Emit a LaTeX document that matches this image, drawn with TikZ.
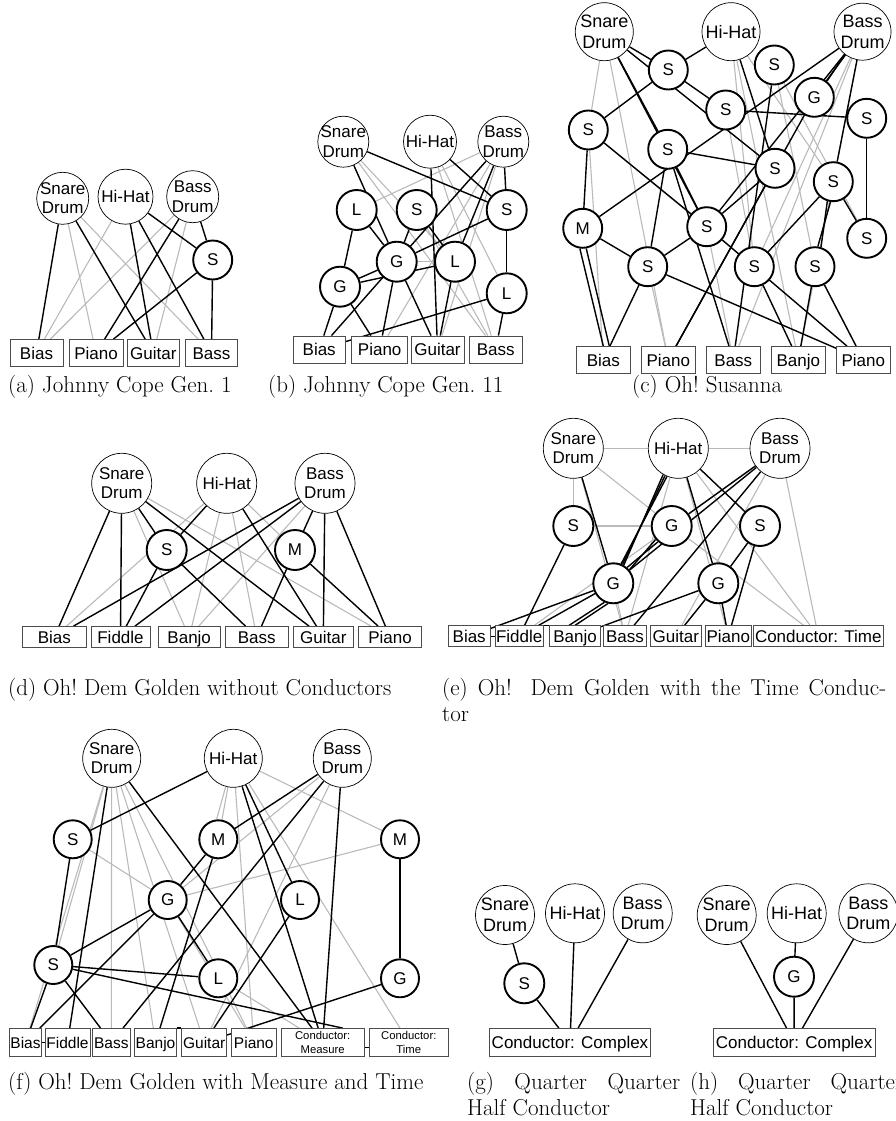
\documentclass[tikz,border=0pt]{standalone}
\usepackage{fontspec}
\newfontfamily\arial{Liberation Sans}
\usetikzlibrary{backgrounds}
\newcommand\drumnode[4]{\node[drum=#4,label={[dlab]center:#3}] (#1) at #2 {};}
\tikzset{
  dlab/.style={font=\arial\fontsize{17}{19.5}\selectfont, align=center, inner sep=0pt},
  drum/.style={circle, draw=black, line width=0.7pt, fill=white, minimum size=#1, inner sep=0pt},
  inst/.style={circle, draw=black, line width=1.9pt, fill=white, minimum size=#1, inner sep=0pt, font=\arial\fontsize{17}{20}\selectfont},
  obox/.style={rectangle, draw=black!70, line width=0.8pt, fill=white, inner sep=0pt, minimum height=#1, font=\arial\fontsize{17}{20}\selectfont, text height=14pt, text depth=1.8pt},
  bk/.style={line width=1.4pt, black},
  gy/.style={line width=1.1pt, black!27},
  captext/.style={anchor=base west, inner sep=0pt, font=\fontsize{23}{28}\selectfont},
}
\begin{document}
\begin{tikzpicture}[x=1pt,y=-1pt]
\useasboundingbox (0,0) rectangle (895,1121);

% ---------- (a) Johnny Cope Gen. 1 ----------
\drumnode{aSn}{(62.7,198.3)}{Snare\\Drum}{52}
\drumnode{aHH}{(125.5,196.7)}{Hi-Hat}{55}
\drumnode{aBD}{(192.7,196.7)}{Bass\\Drum}{52}
\node[inst=39] (aS) at (212.7,260) {S};
\node[obox=27, minimum width=53] (aBias) at (36.5,353) {Bias};
\node[obox=27, minimum width=54] (aPiano) at (96,353) {Piano};
\node[obox=27, minimum width=51.3] (aGuitar) at (153.3,353) {Guitar};
\node[obox=27, minimum width=51.6] (aBass) at (211.5,353) {Bass};
\begin{scope}[on background layer]
\foreach \a/\b in {aSn/aPiano,aSn/aBass,aHH/aBias,aBD/aBias,aBD/aGuitar}
  \draw[gy] (\a) -- (\b);
\foreach \a/\b in {aSn/aBias,aSn/aGuitar,aHH/aGuitar,aHH/aBass,aHH/aS,aBD/aPiano,aBD/aS,aS/aPiano,aS/aBass}
  \draw[bk] (\a) -- (\b);
\end{scope}

% ---------- (b) Johnny Cope Gen. 11 ----------
\drumnode{bSn}{(343.3,141.7)}{Snare\\Drum}{51}
\drumnode{bHH}{(430,141.7)}{Hi-Hat}{53}
\drumnode{bBD}{(503.3,141.7)}{Bass\\Drum}{51}
\node[inst=40] (bL1) at (356.7,210) {L};
\node[inst=40] (bS1) at (416.7,210) {S};
\node[inst=40] (bS2) at (506.7,210) {S};
\node[inst=40] (bG1) at (396.7,261.7) {G};
\node[inst=40] (bL2) at (455,261.7) {L};
\node[inst=40] (bG2) at (340,286.7) {G};
\node[inst=40] (bL3) at (506.7,293.3) {L};
\node[obox=27, minimum width=51.7] (bBias) at (319.2,349.5) {Bias};
\node[obox=27, minimum width=56] (bPiano) at (379.7,349.5) {Piano};
\node[obox=27, minimum width=53] (bGuitar) at (437.5,349.5) {Guitar};
\node[obox=27, minimum width=53.3] (bBass) at (495.7,349.5) {Bass};
\begin{scope}[on background layer]
\foreach \a/\b in {bSn/bL2,bSn/bBass,bHH/bBass,bHH/bL3,bBD/bL1,bBD/bPiano,bBD/bGuitar,bG1/bL2,bS1/bBass}
  \draw[gy] (\a) -- (\b);
\foreach \a/\b in {bSn/bG1,bSn/bS2,bHH/bS2,bHH/bGuitar,bBD/bG1,bBD/bL2,bBD/bS2,bL1/bG1,bL1/bG2,bS1/bG1,bS1/bL2,bS2/bG1,bS2/bL3,bG1/bG2,bG2/bL2,bG1/bBias,bG1/bPiano,bG1/bGuitar,bG2/bBias,bG2/bPiano,bL2/bGuitar,bL3/bBias,bL3/bBass}
  \draw[bk] (\a) -- (\b);
\end{scope}

% ---------- (c) Oh! Susanna ----------
\begin{scope}[dlab/.append style={font=\arial\fontsize{18}{20.5}\selectfont}]
\drumnode{cSn}{(604.3,31.7)}{Snare\\Drum}{58}
\drumnode{cHH}{(731,31.7)}{Hi-Hat}{58}
\drumnode{cBD}{(862.5,31.7)}{Bass\\Drum}{57}
\end{scope}
\node[inst=39] (cSa) at (668.3,70) {S};
\node[inst=39] (cSb) at (725.7,110) {S};
\node[inst=39] (cSc) at (774.3,65) {S};
\node[inst=39] (cG) at (814.3,97.3) {G};
\node[inst=39] (cSd) at (866.7,118.3) {S};
\node[inst=39] (cSe) at (588.3,130) {S};
\node[inst=39] (cSf) at (667.7,149.3) {S};
\node[inst=39] (cSg) at (775,168.3) {S};
\node[inst=39] (cSh) at (833.3,181.7) {S};
\node[inst=39] (cM) at (582.7,228.3) {M};
\node[inst=39] (cSi) at (706.7,226.7) {S};
\node[inst=39] (cSj) at (866.7,238.3) {S};
\node[inst=39] (cSk) at (647.7,266.7) {S};
\node[inst=39] (cSl) at (754.3,266.7) {S};
\node[inst=39] (cSm) at (815,266.7) {S};
\node[obox=27, minimum width=53.3] (cBias) at (603.3,360) {Bias};
\node[obox=27, minimum width=53.3] (cPiano) at (668.3,360) {Piano};
\node[obox=27, minimum width=53.3] (cBass) at (733.3,360) {Bass};
\node[obox=27, minimum width=53.3] (cBanjo) at (798.3,360) {Banjo};
\node[obox=27, minimum width=53.3] (cPianoB) at (863.3,360) {Piano};
\begin{scope}[on background layer]
\foreach \a/\b in {cSn/cSe,cSn/cPiano,cSe/cBias,cSe/cSl,cHH/cSl,cHH/cSh,cSc/cSj,cSc/cSm,cBD/cBass,cBD/cSl,cBD/cBanjo,cSk/cPiano,cSb/cSl,cSm/cPianoB,cSi/cBass,cHH/cBanjo}
  \draw[gy] (\a) -- (\b);
\foreach \a/\b in {cSn/cSa,cHH/cSa,cSa/cSb,cSa/cSe,cSn/cSf,cSn/cSi,cSn/cSg,cHH/cSg,cSc/cBass,cBD/cM,cBD/cG,cBD/cSh,cBD/cSi,cG/cPiano,cSg/cPiano,cSb/cSd,cSd/cSj,cSe/cM,cSe/cSi,cSf/cSk,cSf/cSi,cSf/cBass,cSf/cSg,cSg/cSi,cSh/cSl,cSh/cSj,cM/cSk,cSk/cBias,cSk/cPianoB,cSi/cSk,cSi/cPianoB,cSl/cBanjo,cSm/cBanjo,cSm/cPianoB}
  \draw[bk] (\a) -- (\b);
\draw[bk] (cSh.253) -- (cSm.73);
\draw[bk] (cSh.262) -- (cSm.82);
\draw[bk] (cM.262) -- (cBias.north);
\draw[bk] (cM.280) -- ([xshift=6pt]cBias.north);
\draw[bk] (cBD.232) -- (cG.52);
\end{scope}

% ---------- (d) Oh! Dem Golden without Conductors ----------
\drumnode{dSn}{(121.7,483.3)}{Snare\\Drum}{60}
\drumnode{dHH}{(226.7,483.3)}{Hi-Hat}{60}
\drumnode{dBD}{(325,483.3)}{Bass\\Drum}{60}
\node[inst=40] (dS) at (166.7,550) {S};
\node[inst=40] (dM) at (295,550) {M};
\node[obox=21, minimum width=63.3] (dBias) at (54.3,637) {Bias};
\node[obox=21, minimum width=59] (dFiddle) at (120.5,637) {Fiddle};
\node[obox=21, minimum width=61.7] (dBanjo) at (189.2,637) {Banjo};
\node[obox=21, minimum width=63.3] (dBass) at (256.7,637) {Bass};
\node[obox=21, minimum width=60] (dGuitar) at (323.3,637) {Guitar};
\node[obox=21, minimum width=63.3] (dPiano) at (390,637) {Piano};
\begin{scope}[on background layer]
\foreach \a/\b in {dSn/dBanjo,dSn/dPiano,dHH/dBias,dHH/dBanjo,dHH/dBass,dHH/dM,dBD/dBanjo}
  \draw[gy] (\a) -- (\b);
\foreach \a/\b in {dSn/dBias,dSn/dFiddle,dSn/dS,dSn/dGuitar,dHH/dS,dHH/dGuitar,dBD/dBias,dBD/dFiddle,dBD/dM,dBD/dGuitar,dBD/dPiano,dS/dFiddle,dS/dBass,dM/dBass,dM/dPiano}
  \draw[bk] (\a) -- (\b);
\end{scope}

% ---------- (e) Oh! Dem Golden with the Time Conductor ----------
\drumnode{eSn}{(573.3,448.3)}{Snare\\Drum}{60}
\drumnode{eHH}{(678.3,448.3)}{Hi-Hat}{60}
\drumnode{eBD}{(780,448.3)}{Bass\\Drum}{60}
\node[inst=40] (eS1) at (573.3,526) {S};
\node[inst=40] (eG1) at (671.7,526) {G};
\node[inst=40] (eS2) at (760,526) {S};
\node[inst=40] (eG2) at (613.3,583.3) {G};
\node[inst=40] (eG3) at (718.3,583.3) {G};
\node[obox=21, minimum width=41.7] (eBias) at (469.2,636.3) {Bias};
\node[obox=21, minimum width=48.3] (eFiddle) at (519.2,636.3) {Fiddle};
\node[obox=21, minimum width=51.3] (eBanjo) at (575,636.3) {Banjo};
\node[obox=21, minimum width=43.3] (eBass) at (625,636.3) {Bass};
\node[obox=21, minimum width=51.7] (eGuitar) at (675.8,636.3) {Guitar};
\node[obox=21, minimum width=46.7] (ePiano) at (728.3,636.3) {Piano};
\node[obox=21, minimum width=130] (eTime) at (818.3,636.3) {Conductor: Time};
\begin{scope}[on background layer]
\foreach \a/\b in {eSn/eHH,eHH/eBD,eSn/eS1,eS1/eG1,eSn/eG1,eSn/eBass,eHH/eBass,eHH/eTime,eBD/eTime,eBD/eFiddle,eBD/eGuitar,eG1/eTime,eHH/ePiano,eG3/eGuitar,eG2/eBass}
  \draw[gy] (\a) -- (\b);
\foreach \a/\b in {eSn/eG2,eHH/eG3,eHH/eS2,eBD/eG1,eBD/eBass,eBD/eG2,eS1/eFiddle,eS2/eG3,eS2/ePiano,eG2/eBias,eG2/eFiddle,eG3/eBanjo,eG3/eGuitar,eG3/ePiano,eBias/eFiddle}
  \draw[bk] (\a) -- (\b);
\draw[bk] (eHH.240) -- (eG2.60);
\draw[bk] (eHH.244) -- (eG2.64);
\draw[bk] (eHH.248) -- (eG2.68);
\draw[bk] (eG1.220) -- (eG2.40);
\draw[bk] (eG1.229) -- (eG2.49);
\draw[bk] (eG2.245) -- ([xshift=-6pt]eBanjo.north);
\draw[bk] (eG2.255) -- (eBanjo.north);
\draw[bk] (eFiddle.north east) -- (eBanjo.north west);
\end{scope}

% ---------- (f) Oh! Dem Golden with Measure and Time ----------
\drumnode{fSn}{(111.7,758.3)}{Snare\\Drum}{58}
\drumnode{fHH}{(233.3,758.3)}{Hi-Hat}{58}
\drumnode{fBD}{(342.3,758.3)}{Bass\\Drum}{58}
\node[inst=38] (fS1) at (72.7,839.3) {S};
\node[inst=38] (fM1) at (218.3,839.3) {M};
\node[inst=38] (fM2) at (400,839.3) {M};
\node[inst=38] (fG1) at (167.7,900) {G};
\node[inst=38] (fL1) at (300,900) {L};
\node[inst=38] (fS2) at (53.3,965) {S};
\node[inst=38] (fL2) at (218.3,978.3) {L};
\node[inst=38] (fG2) at (400,978.3) {G};
\begin{scope}[obox/.append style={font=\arial\fontsize{15.5}{18}\selectfont, text height=13pt, text depth=1.9pt}]
\node[obox=28, minimum width=32.4] (fBias) at (25.5,1042.5) {Bias};
\node[obox=28, minimum width=45] (fFiddle) at (67.5,1042.5) {Fiddle};
\node[obox=28, minimum width=37.3] (fBass) at (111.3,1042.5) {Bass};
\node[obox=28, minimum width=42.4] (fBanjo) at (155.5,1042.5) {Banjo};
\node[obox=28, minimum width=45] (fGuitar) at (204.2,1042.5) {Guitar};
\node[obox=28, minimum width=45.7] (fPiano) at (253.8,1042.5) {Piano};
\end{scope}
\tikzset{cbox/.style={rectangle, draw=black!70, line width=0.8pt, fill=white, inner sep=0pt, minimum height=28pt, font=\arial\fontsize{11.3}{13.5}\selectfont, align=center}}
\node[cbox, minimum width=83.3] (fMeasure) at (322.7,1042.5) {Conductor:\\Measure};
\node[cbox, minimum width=79] (fTime) at (408.8,1042.5) {Conductor:\\Time};
\begin{scope}[on background layer]
\foreach \a/\b in {fSn/fS2,fSn/fBias,fSn/fBass,fSn/fBanjo,fSn/fGuitar,fSn/fPiano,fHH/fM1,fHH/fM2,fHH/fPiano,fHH/fTime,fBD/fG1,fBD/fGuitar,fM2/fG1,fS1/fG1,fG1/fPiano,fL2/fMeasure}
  \draw[gy] (\a) -- (\b);
\draw[gy] (fHH.255) -- (fM1.95);
\foreach \a/\b in {fHH/fS1,fSn/fFiddle,fSn/fMeasure,fHH/fL1,fHH/fMeasure,fBD/fM1,fBD/fBass,fBD/fMeasure,fM1/fG1,fM1/fBanjo,fG1/fS2,fG1/fL2,fG1/fBias,fS1/fS2,fS2/fBias,fS2/fBass,fS2/fL2,fL1/fGuitar,fG2/fGuitar,fM2/fG2,fBias/fFiddle}
  \draw[bk] (\a) -- (\b);
\draw[bk] (fS2) -- ([xshift=-22pt]fMeasure.north east);
\draw[bk] (fBanjo.north east) -- (fGuitar.north west);
\draw[bk] ([yshift=-5pt]fMeasure.east) -- ([yshift=-5pt]fTime.west);
\end{scope}

% ---------- (g) and (h) Quarter Quarter Half Conductor ----------
\begin{scope}[dlab/.append style={font=\arial\fontsize{18}{20.5}\selectfont}]
\drumnode{gSn}{(505,915)}{Snare\\Drum}{59}
\drumnode{gHH}{(575,913.3)}{Hi-Hat}{59}
\drumnode{gBD}{(642.7,913.3)}{Bass\\Drum}{59}
\drumnode{hSn}{(726.7,915)}{Snare\\Drum}{59}
\drumnode{hHH}{(796.7,913.3)}{Hi-Hat}{59}
\drumnode{hBD}{(868.3,913.3)}{Bass\\Drum}{59}
\end{scope}
\node[inst=40] (gS) at (524.3,983.3) {S};
\node[obox=28, minimum width=161.4] (gBox) at (570,1042.5) {Conductor: Complex};
\node[inst=40] (hG) at (794,976.7) {G};
\node[obox=28, minimum width=161.7] (hBox) at (794.2,1042.5) {Conductor: Complex};
\begin{scope}[on background layer]
\foreach \a/\b in {gSn/gS,gS/gBox,gHH/gBox,gBD/gBox,hSn/hBox,hHH/hG,hG/hBox,hBD/hBox}
  \draw[bk] (\a) -- (\b);
\end{scope}

% ---------- captions ----------
\node[captext] (capa) at (8,392) {\frenchspacing(a) Johnny Cope Gen. 1};
\node[captext] (capb) at (268,392) {\frenchspacing(b) Johnny Cope Gen. 11};
\node[captext] (capc) at (632,392) {\frenchspacing(c) Oh! Susanna};
\node[captext] (capd) at (8,695) {\frenchspacing(d) Oh! Dem Golden without Conductors};
\node[captext] (cape) at (442,695) {\makebox[444pt][s]{(e) Oh! Dem Golden with the Time Conduc-}};
\node[captext] (capee) at (442,721) {tor};
\node[captext] (capf) at (8,1089) {\frenchspacing(f) Oh! Dem Golden with Measure and Time};
\node[captext] (capg) at (467,1089) {\makebox[213pt][s]{(g) Quarter Quarter}};
\node[captext] (capgg) at (467,1115) {Half Conductor};
\node[captext] (caph) at (690,1089) {\makebox[213pt][s]{(h) Quarter Quarter}};
\node[captext] (caphh) at (690,1115) {Half Conductor};
\end{tikzpicture}
\end{document}
